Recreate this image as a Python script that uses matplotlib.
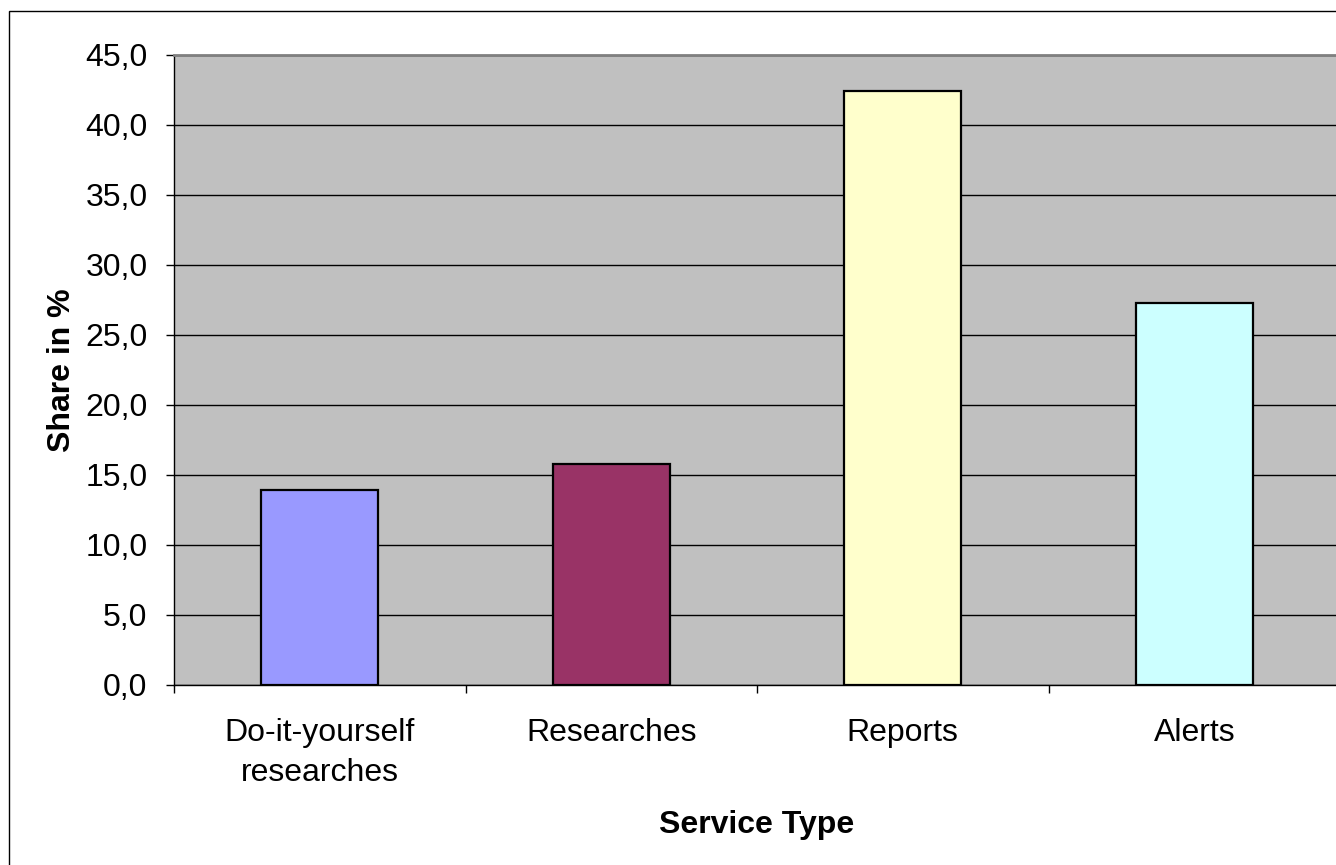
import numpy as np
import matplotlib
matplotlib.use("Agg")
from matplotlib import pyplot as plt
from matplotlib.patches import Rectangle

categories = ["Do-it-yourself\nresearches", "Researches", "Reports", "Alerts"]
shares = [13.9, 15.8, 42.4, 27.3]
bar_colors = ["#9999FF", "#993366", "#FFFFCC", "#CCFFFF"]
y_ticks = [0, 5, 10, 15, 20, 25, 30, 35, 40, 45]

plt.rcParams['font.family'] = ['Liberation Sans', 'DejaVu Sans']

fig = plt.figure(figsize=(13.36, 8.65), dpi=100)
ax = fig.add_axes([174 / 1336, 1 - 685 / 865, 1166 / 1336, 630 / 865])

# outer chart border (right and bottom edges fall outside the picture)
fig.patches.append(Rectangle((9 / 1336, -0.01), 1.02, 1 - 11 / 865 + 0.01,
                             transform=fig.transFigure, fill=False,
                             edgecolor="black", linewidth=1.0, clip_on=False))

ax.set_facecolor("#C0C0C0")
x = np.arange(len(categories))
ax.bar(x, shares, width=0.4, color=bar_colors, edgecolor="black",
       linewidth=1.6, zorder=3)

ax.set_xlim(-0.5, len(categories) - 0.5)
ax.set_ylim(0, 45)
ax.set_yticks(y_ticks)
ax.set_yticklabels([f"{v:.1f}".replace(".", ",") for v in y_ticks], fontsize=23)
ax.yaxis.grid(True, color="black", linewidth=1.0, zorder=1)
ax.set_axisbelow(True)

# category labels between boundary ticks
ax.set_xticks(np.arange(-0.5, len(categories), 1.0))
ax.set_xticklabels([])
ax.set_xticks(x, minor=True)
ax.set_xticklabels(categories, minor=True, fontsize=23, linespacing=1.42)
ax.tick_params(axis="x", which="minor", length=0, pad=24)
ax.tick_params(axis="x", which="major", length=6, width=1.0, direction="out")
ax.tick_params(axis="y", length=6, width=1.0, direction="out", pad=13)

for side in ["left", "bottom"]:
    ax.spines[side].set_color("black")
    ax.spines[side].set_linewidth(1.0)
ax.spines["top"].set_color("#808080")
ax.spines["top"].set_linewidth(2.0)
ax.spines["right"].set_visible(False)

ax.set_ylabel("Share in %", fontsize=23, fontweight="bold", labelpad=6)
ax.set_xlabel("Service Type", fontsize=23, fontweight="bold", labelpad=16)

fig.savefig("out.png", dpi=100)
